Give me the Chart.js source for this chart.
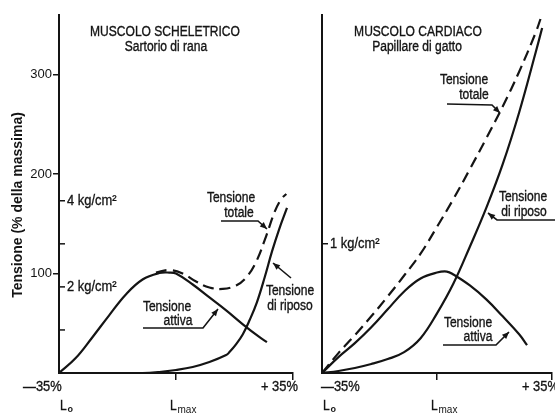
<!DOCTYPE html>
<html>
<head>
<meta charset="utf-8">
<script src="https://cdn.jsdelivr.net/npm/chart.js@4.4.1/dist/chart.umd.min.js"></script>
<style>
  html, body { margin: 0; padding: 0; background: #fff; }
  #wrap { position: relative; width: 555px; height: 417px; overflow: hidden; }
  canvas { position: absolute; top: 0; }
  #skeletal { left: 0; }
  #cardiac { left: 300px; }
</style>
</head>
<body>
<div id="wrap">
  <canvas id="skeletal" width="320" height="417"></canvas>
  <canvas id="cardiac" width="255" height="417"></canvas>
</div>
<script>
// x = lunghezza rispetto a Lmax (%), y = tensione (% della massima)
const lengthRange = [-35, 35];
const tensionMax = 360;
const pctTicks = [100, 200, 300];
const lengthTicks = [0, 35];

// muscolo scheletrico - sartorio di rana
const skActive = [[-35, 0], [-30, 15], [-25, 36], [-20, 58], [-15, 79], [-10, 94], [-5, 100.5], [-2, 101],
  [0, 100], [5, 89], [10, 76], [15, 63], [20, 49], [25, 36], [27.2, 31]];
const skRest = [[-35, 0], [-10, 0], [-5, 1], [0, 3], [5, 6], [10, 11], [15, 18], [16, 21], [18, 29], [20, 39],
  [22, 53], [24.2, 71], [26.6, 97], [28.7, 122], [30.8, 144], [33.2, 166]];
const skTotal = [[-6, 101], [-2, 103.5], [2, 100], [6, 92], [10, 86], [14, 84.5], [18, 88], [21, 96],
  [24, 112], [27, 138], [29.5, 162], [31.5, 175], [33, 180]];
const skKgTicks = [1, 2, 3, 4];
const skKgLabels = [2, 4];
const skPctPerKg = 43.3;

// muscolo cardiaco - papillare di gatto
const caActive = [[-35, 0], [-30, 16], [-25, 30], [-20, 46], [-15, 64], [-10, 82], [-5, 95], [0, 101],
  [3, 102], [5, 99], [10, 88], [15, 74], [20, 57], [25, 39], [27.4, 28]];
const caRest = [[-35, 0], [-30, 2], [-25, 5], [-20, 9], [-15, 14], [-10, 21], [-5, 35], [0, 60], [5, 90],
  [10, 127], [15, 166], [20, 210], [25, 262], [30, 322], [32, 347]];
const caTotal = [[-35, 0], [-30, 20], [-25, 38], [-20, 57], [-15, 77], [-10, 98], [-5, 120], [0, 147],
  [5, 175], [10, 205], [15, 236], [20, 268], [25, 303], [30, 342], [31.6, 357]];
const caKgTicks = [1];
const caKgLabels = [1];
const caPctPerKg = 130;

const ink = '#141414';
const FONT = '"Liberation Sans", Arial, sans-serif';

function txt(ctx, s, x, y, align, size, bold) {
  ctx.save();
  ctx.font = (bold ? 'bold ' : '') + (size || 14) + 'px ' + FONT;
  ctx.fillStyle = ink;
  ctx.strokeStyle = ink;
  ctx.lineWidth = 0.35;
  ctx.textBaseline = 'middle';
  ctx.textAlign = align || 'center';
  ctx.translate(x, y);
  ctx.scale(0.86, 1);
  ctx.fillText(s, 0, 0);
  ctx.strokeText(s, 0, 0);
  ctx.restore();
}

function arrow(ctx, pts) {
  ctx.save();
  ctx.strokeStyle = ink;
  ctx.fillStyle = ink;
  ctx.lineWidth = 1.6;
  ctx.beginPath();
  ctx.moveTo(pts[0][0], pts[0][1]);
  for (let i = 1; i < pts.length; i++) ctx.lineTo(pts[i][0], pts[i][1]);
  ctx.stroke();
  const [x1, y1] = pts[pts.length - 2];
  const [x2, y2] = pts[pts.length - 1];
  const a = Math.atan2(y2 - y1, x2 - x1);
  const L = 7, W = 3;
  ctx.beginPath();
  ctx.moveTo(x2, y2);
  ctx.lineTo(x2 - L * Math.cos(a) + W * Math.sin(a), y2 - L * Math.sin(a) - W * Math.cos(a));
  ctx.lineTo(x2 - L * Math.cos(a) - W * Math.sin(a), y2 - L * Math.sin(a) + W * Math.cos(a));
  ctx.closePath();
  ctx.fill();
  ctx.restore();
}

function lengthLabel(ctx, x, y, sub) {
  txt(ctx, 'L', x, y, 'left', 14);
  ctx.save();
  ctx.font = (sub === 'o' ? 'bold 9px ' : '10px ') + FONT;
  ctx.fillStyle = ink;
  ctx.textBaseline = 'middle';
  ctx.textAlign = 'left';
  ctx.fillText(sub, x + 7.5, y + 4);
  ctx.restore();
}

// testi, frecce e scala in kg/cm² disegnati sopra il grafico
const figurePlugin = {
  id: 'figure',
  afterDraw(chart, args, opts) {
    const ctx = chart.ctx;
    const xs = chart.scales.x, ys = chart.scales.y;
    const ox = opts.offsetX;
    const x0 = xs.getPixelForValue(lengthRange[0]);

    // tacche kg/cm² verso l'interno
    ctx.save();
    ctx.strokeStyle = ink;
    ctx.lineWidth = 1.5;
    opts.kgTicks.forEach(k => {
      const y = ys.getPixelForValue(k * opts.pctPerKg);
      ctx.beginPath();
      ctx.moveTo(x0, y);
      ctx.lineTo(x0 + 6, y);
      ctx.stroke();
    });
    ctx.restore();
    opts.kgLabels.forEach(k => {
      txt(ctx, k + ' kg/cm²', x0 + 8, ys.getPixelForValue(k * opts.pctPerKg), 'left', 15);
    });

    opts.texts.forEach(t => txt(ctx, t[0], t[1] - ox, t[2], t[3] || 'center'));
    opts.arrows.forEach(a => arrow(ctx, a.map(p => [p[0] - ox, p[1]])));

    // etichette dell'asse x
    const xm = xs.getPixelForValue(0);
    const xr = xs.getPixelForValue(lengthRange[1]);
    txt(ctx, '—35%', x0 + opts.minusDx, 387, 'left', 15);
    txt(ctx, '+ 35%', xr + opts.plusDx, 387, 'left', 15);
    lengthLabel(ctx, x0 + 1, 406, 'o');
    lengthLabel(ctx, xm - 6, 406, 'max');

    if (opts.yTitle) {
      ctx.save();
      ctx.translate(18, 205);
      ctx.rotate(-Math.PI / 2);
      ctx.font = 'bold 14px ' + FONT;
      ctx.fillStyle = ink;
      ctx.textAlign = 'center';
      ctx.textBaseline = 'middle';
      ctx.fillText(opts.yTitle, 0, 0);
      ctx.restore();
    }
  }
};

function line(points, dashed) {
  return {
    data: points.map(p => ({ x: p[0], y: p[1] })),
    borderColor: ink,
    borderWidth: 2.2,
    borderDash: dashed ? [11, 6] : [],
    pointRadius: 0,
    tension: 0.4,
    fill: false
  };
}

function panel(id, series, cfg) {
  return new Chart(document.getElementById(id), {
    type: 'line',
    data: { datasets: series },
    plugins: [figurePlugin],
    options: {
      responsive: false,
      animation: false,
      events: [],
      layout: { padding: { top: 15, right: cfg.padRight, left: 0, bottom: 0 } },
      plugins: {
        legend: { display: false },
        tooltip: { enabled: false },
        figure: cfg.figure
      },
      scales: {
        x: {
          type: 'linear',
          min: lengthRange[0],
          max: lengthRange[1],
          afterBuildTicks: s => { s.ticks = lengthTicks.map(v => ({ value: v })); },
          afterFit: s => { s.height = 44; },
          ticks: { display: false },
          grid: { drawOnChartArea: false, drawTicks: true, tickLength: 7, color: ink, lineWidth: 1.5 },
          border: { display: true, color: ink, width: 2 }
        },
        y: {
          min: 0,
          max: tensionMax,
          afterBuildTicks: s => { s.ticks = cfg.yTicks ? pctTicks.map(v => ({ value: v })) : []; },
          afterFit: s => { s.width = cfg.yWidth; },
          ticks: { display: !!cfg.yTicks, padding: 1, color: ink, font: { family: FONT, size: 13 } },
          grid: { display: !!cfg.yTicks, drawOnChartArea: false, tickLength: 6, color: ink, lineWidth: 1.5 },
          border: { display: true, color: ink, width: 2 }
        }
      }
    }
  });
}

panel('skeletal', [line(skActive), line(skRest), line(skTotal, true)], {
  padRight: 27,
  yWidth: 59,
  yTicks: true,
  figure: {
    offsetX: 0,
    kgTicks: skKgTicks,
    kgLabels: skKgLabels,
    pctPerKg: skPctPerKg,
    minusDx: -36,
    plusDx: -32,
    yTitle: 'Tensione (% della massima)',
    texts: [
      ['MUSCOLO SCHELETRICO', 165, 32],
      ['Sartorio di rana', 166, 47],
      ['Tensione', 231, 198], ['totale', 239, 213],
      ['Tensione', 290, 291], ['di riposo', 290, 306],
      ['Tensione', 167, 307], ['attiva', 178, 321]
    ],
    arrows: [
      [[221, 221], [258, 221], [267, 229]],
      [[291, 278], [273, 263]],
      [[143, 328], [203, 328], [218, 309]]
    ]
  }
});

panel('cardiac', [line(caActive), line(caRest), line(caTotal, true)], {
  padRight: 3,
  yWidth: 22,
  yTicks: false,
  figure: {
    offsetX: 300,
    kgTicks: caKgTicks,
    kgLabels: caKgLabels,
    pctPerKg: caPctPerKg,
    minusDx: -1,
    plusDx: -30,
    yTitle: null,
    texts: [
      ['MUSCOLO CARDIACO', 418, 32],
      ['Papillare di gatto', 417, 47],
      ['Tensione', 464, 80], ['totale', 474, 95],
      ['Tensione', 523, 197], ['di riposo', 524, 212],
      ['Tensione', 468, 323], ['attiva', 478, 337]
    ],
    arrows: [
      [[447, 104], [492, 105], [500, 113]],
      [[555, 220], [497, 220], [488, 213]],
      [[443, 345], [496, 345], [509, 332]]
    ]
  }
});
</script>
</body>
</html>
